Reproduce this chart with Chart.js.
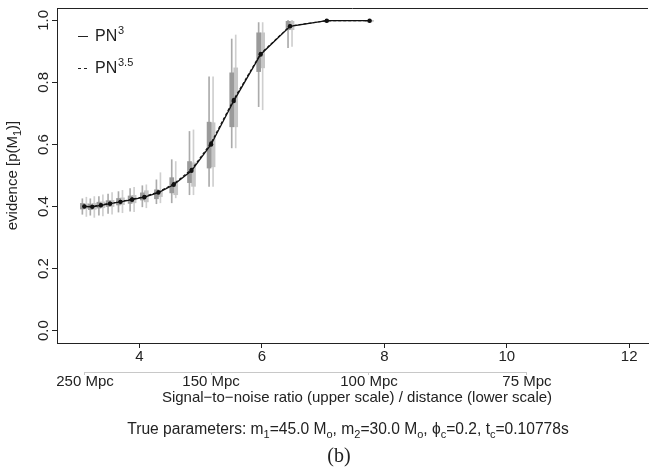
<!DOCTYPE html>
<html lang="en">
<head>
<meta charset="UTF-8">
<title>Evidence vs signal-to-noise ratio</title>
<script src="https://cdn.jsdelivr.net/npm/chart.js"></script>
<style>
  body { margin: 0; background: #fff; }
  #wrap { width: 652px; height: 470px; }
</style>
</head>
<body>
<div id="wrap"><canvas id="evidence-chart" width="652" height="470"></canvas></div>
<script>
// signal-to-noise ratio of each injection (upper scale), 250 Mpc ... 100 Mpc
const snr = [3.10, 3.23, 3.37, 3.52, 3.69, 3.88, 4.08, 4.31, 4.56, 4.85, 5.17, 5.54, 5.98, 6.46, 7.06, 7.76];

// mean evidence p(M1)
const evidencePN3  = [0.400, 0.399, 0.404, 0.409, 0.415, 0.422, 0.430, 0.445, 0.470, 0.515, 0.600, 0.740, 0.890, 0.981, 0.999, 0.999];
const evidencePN35 = [0.401, 0.400, 0.405, 0.410, 0.416, 0.424, 0.432, 0.447, 0.473, 0.519, 0.605, 0.745, 0.893, 0.982, 0.999, 0.999];

// box (quartiles) and whisker ranges, [low, high]
const boxPN3 = [[0.392, 0.410], [0.390, 0.408], [0.395, 0.414], [0.400, 0.419], [0.405, 0.426], [0.410, 0.434],
  [0.421, 0.444], [0.425, 0.454], [0.444, 0.493], [0.477, 0.545], [0.524, 0.672], [0.657, 0.831],
  [0.835, 0.960], [0.970, 0.997], [0.997, 1.000], [0.997, 1.000]];
const whiskerPN3 = [[0.375, 0.425], [0.372, 0.425], [0.372, 0.432], [0.378, 0.440], [0.382, 0.448], [0.385, 0.458],
  [0.399, 0.467], [0.409, 0.486], [0.412, 0.551], [0.438, 0.642], [0.465, 0.818], [0.589, 0.940],
  [0.722, 0.993], [0.912, 1.000], [0.995, 1.000], [0.995, 1.000]];
const boxPN35 = [[0.393, 0.409], [0.391, 0.410], [0.396, 0.415], [0.400, 0.420], [0.406, 0.428], [0.412, 0.436],
  [0.415, 0.451], [0.432, 0.448], [0.438, 0.481], [0.465, 0.541], [0.528, 0.670], [0.657, 0.847],
  [0.847, 0.960], [0.970, 0.997], [0.997, 1.000], [0.997, 1.000]];
const whiskerPN35 = [[0.368, 0.430], [0.365, 0.432], [0.370, 0.438], [0.375, 0.445], [0.380, 0.452], [0.383, 0.462],
  [0.396, 0.470], [0.412, 0.509], [0.428, 0.545], [0.438, 0.647], [0.465, 0.818], [0.589, 0.953],
  [0.712, 0.993], [0.916, 1.000], [0.995, 1.000], [0.995, 1.000]];

const snrTicks = [4, 6, 8, 10, 12];
const evidenceTicks = [0, 0.2, 0.4, 0.6, 0.8, 1.0];
// lower scale: distance, placed at the SNR it corresponds to
const distanceTickSnr = [3.11, 5.17, 7.75, 10.33];
const distanceLabels = ['250 Mpc', '150 Mpc', '100 Mpc', '75 Mpc'];

const FONT = '"Liberation Sans", Arial, sans-serif';
const INK = '#222';

function points(ys) {
  return snr.map((s, i) => ({ x: s, y: ys[i] }));
}

// draw text with sub/superscripts: parts = [[text, shift]], shift -1 sub, 1 sup
function richText(ctx, parts, x, y, size, family) {
  const fam = family || FONT;
  const fontOf = p => (p[1] === 0 ? size : Math.round(size * 0.7)) + 'px ' + fam;
  const widths = parts.map(p => { ctx.font = fontOf(p); return ctx.measureText(p[0]).width; });
  let cx = x - widths.reduce((a, b) => a + b, 0) / 2;
  ctx.textAlign = 'left';
  ctx.textBaseline = 'middle';
  parts.forEach((p, i) => {
    ctx.font = fontOf(p);
    const dy = p[1] < 0 ? size * 0.3 : p[1] > 0 ? -size * 0.38 : 0;
    ctx.fillText(p[0], cx, y + dy);
    cx += widths[i];
  });
}

const annotations = {
  id: 'annotations',
  afterDraw(chart) {
    const ctx = chart.ctx;
    const area = chart.chartArea;
    ctx.save();
    ctx.fillStyle = INK;
    ctx.strokeStyle = INK;
    ctx.lineWidth = 1;

    // top of the plot box
    ctx.beginPath();
    ctx.moveTo(area.left, Math.round(area.top) + 0.5);
    ctx.lineTo(area.right, Math.round(area.top) + 0.5);
    ctx.stroke();

    // lower (distance) scale line
    const x2 = chart.scales.x2;
    ctx.strokeStyle = '#c8c8c8';
    ctx.beginPath();
    ctx.moveTo(x2.getPixelForValue(distanceTickSnr[0]), x2.top + 0.5);
    ctx.lineTo(x2.getPixelForValue(distanceTickSnr[distanceTickSnr.length - 1]), x2.top + 0.5);
    ctx.stroke();

    // legend
    ctx.strokeStyle = INK;
    ctx.beginPath();
    ctx.moveTo(78, 36.5); ctx.lineTo(88, 36.5);
    ctx.stroke();
    ctx.setLineDash([3, 3]);
    ctx.beginPath();
    ctx.moveTo(78, 68.5); ctx.lineTo(88, 68.5);
    ctx.stroke();
    ctx.setLineDash([]);
    ctx.textAlign = 'left';
    ctx.textBaseline = 'middle';
    ctx.font = '16px ' + FONT;
    ctx.fillText('PN', 95, 37);
    ctx.fillText('PN', 95, 69);
    ctx.font = '11px ' + FONT;
    ctx.fillText('3', 118, 31);
    ctx.fillText('3.5', 118, 63);

    // y axis title
    ctx.save();
    ctx.translate(13, (area.top + area.bottom) / 2);
    ctx.rotate(-Math.PI / 2);
    richText(ctx, [['evidence [p(M', 0], ['1', -1], [')]', 0]], 0, 0, 15);
    ctx.restore();

    // x axis title and caption
    richText(ctx, [['Signal\u2212to\u2212noise ratio (upper scale) / distance (lower scale)', 0]], 357, 398, 15);
    richText(ctx, [
      ['True parameters: m', 0], ['1', -1], ['=45.0 M', 0], ['o', -1],
      [', m', 0], ['2', -1], ['=30.0 M', 0], ['o', -1],
      [', \u03d5', 0], ['c', -1], ['=0.2, t', 0], ['c', -1], ['=0.10778s', 0]
    ], 348, 430, 15.6);
    richText(ctx, [['(b)', 0]], 339, 457, 20, '"Liberation Serif", "DejaVu Serif", serif');
    ctx.restore();
  }
};

const ctx = document.getElementById('evidence-chart').getContext('2d');

new Chart(ctx, {
  type: 'bar',
  data: {
    datasets: [
      { type: 'line', label: 'PN3', data: points(evidencePN3), borderColor: '#111', backgroundColor: '#111',
        borderWidth: 1.3, pointRadius: 2.2, pointBorderWidth: 0, order: 1 },
      { type: 'line', label: 'PN3.5', data: points(evidencePN35), borderColor: '#111', backgroundColor: '#111',
        borderWidth: 1.1, borderDash: [3, 2], pointRadius: 1.8, pointBorderWidth: 0, order: 0 },
      { label: 'PN3 box', data: points(boxPN3), backgroundColor: '#9a9a9a', stack: 'pn3', barThickness: 4, order: 2 },
      { label: 'PN3.5 box', data: points(boxPN35), backgroundColor: '#c6c6c6', stack: 'pn35', barThickness: 4, order: 2 },
      { label: 'PN3 whisker', data: points(whiskerPN3), backgroundColor: '#ababab', stack: 'pn3',
        barThickness: 4, maxBarThickness: 1, order: 3 },
      { label: 'PN3.5 whisker', data: points(whiskerPN35), backgroundColor: '#cfcfcf', stack: 'pn35',
        barThickness: 4, maxBarThickness: 1, order: 3 }
    ]
  },
  options: {
    responsive: false,
    animation: false,
    devicePixelRatio: 1,
    layout: { padding: { top: 8, left: 0, right: 0, bottom: 0 } },
    plugins: { legend: { display: false }, tooltip: { enabled: false } },
    scales: {
      x: {
        type: 'linear', position: 'bottom', weight: 0, min: 2.653, max: 12.308, offset: false,
        afterBuildTicks: s => { s.ticks = snrTicks.map(v => ({ value: v })); },
        afterFit: s => { s.height = 29; },
        grid: { offset: false, drawOnChartArea: false, tickLength: 5, color: INK },
        border: { display: true, color: INK, width: 1 },
        ticks: { font: { family: FONT, size: 15 }, color: INK, padding: 0, minRotation: 0, maxRotation: 0, autoSkip: false }
      },
      x2: {
        type: 'linear', position: 'bottom', weight: 1, min: 2.653, max: 12.308, offset: false,
        afterBuildTicks: s => { s.ticks = distanceTickSnr.map(v => ({ value: v })); },
        afterFit: s => { s.height = 98; },
        grid: { offset: false, drawOnChartArea: false, tickLength: 3, color: '#c8c8c8' },
        border: { display: false },
        ticks: { callback: (v, i) => distanceLabels[i], font: { family: FONT, size: 15 }, color: INK,
          padding: -2, minRotation: 0, maxRotation: 0, autoSkip: false }
      },
      y: {
        type: 'linear', min: -0.04, max: 1.04, stacked: false,
        afterBuildTicks: s => { s.ticks = evidenceTicks.map(v => ({ value: v })); },
        afterFit: s => { s.width = 57; },
        grid: { drawOnChartArea: false, tickLength: 5, color: INK },
        border: { display: true, color: INK, width: 1 },
        ticks: { callback: v => v.toFixed(1), font: { family: FONT, size: 15 }, color: INK,
          minRotation: 90, maxRotation: 90, crossAlign: 'center', padding: -2 }
      }
    }
  },
  plugins: [annotations]
});
</script>
</body>
</html>
